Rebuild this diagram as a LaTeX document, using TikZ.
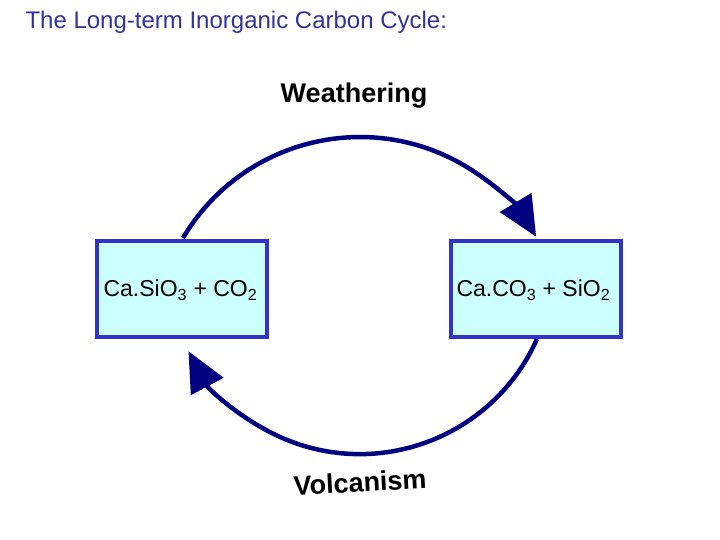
\documentclass[tikz,border=0pt]{standalone}
\usepackage{fontspec}
\setmainfont{Liberation Sans}
\usetikzlibrary{arrows.meta}
\definecolor{navy}{HTML}{000080}
\definecolor{boxb}{HTML}{3333CC}
\definecolor{boxf}{HTML}{CCFFFF}
\definecolor{titc}{HTML}{333399}
\begin{document}
\begin{tikzpicture}[x=1pt,y=1pt,
  chem/.style={draw=boxb,line width=4pt,fill=boxf,minimum width=170pt,minimum height=96pt,inner sep=0pt},
  ctext/.style={anchor=west,font=\fontsize{23}{26}\selectfont},
  cyc/.style={draw=navy,line width=4.5pt,-{Triangle[length=40pt,width=36pt]}},
  lab/.style={font=\fontsize{27}{30}\selectfont\bfseries}]
\useasboundingbox (0,0) rectangle (720,540);
\node[anchor=west,text=titc,font=\fontsize{24}{28}\selectfont] (title) at (22,518) {The Long-term Inorganic Carbon Cycle:};
\node[chem,anchor=north west] (L) at (95,301) {};
\node[ctext] (Lt) at (100,250) {Ca.SiO\textsubscript{3} + CO\textsubscript{2}};
\node[chem,anchor=north west] (R) at (449,301) {};
\node[ctext] (Rt) at (453,250) {Ca.CO\textsubscript{3} + SiO\textsubscript{2}};
\coordinate (a) at (183,302);
\coordinate (b) at (537,201);
\draw[cyc] (a) arc[start angle=149.4,end angle=31,radius=205.6];
\draw[cyc] (b) arc[start angle=-24,end angle=-152,radius=194];
\node[lab] (w) at (354,444) {Weathering};
\node[lab,rotate=3] (v) at (360,58) {Volcanism};
\end{tikzpicture}
\end{document}
